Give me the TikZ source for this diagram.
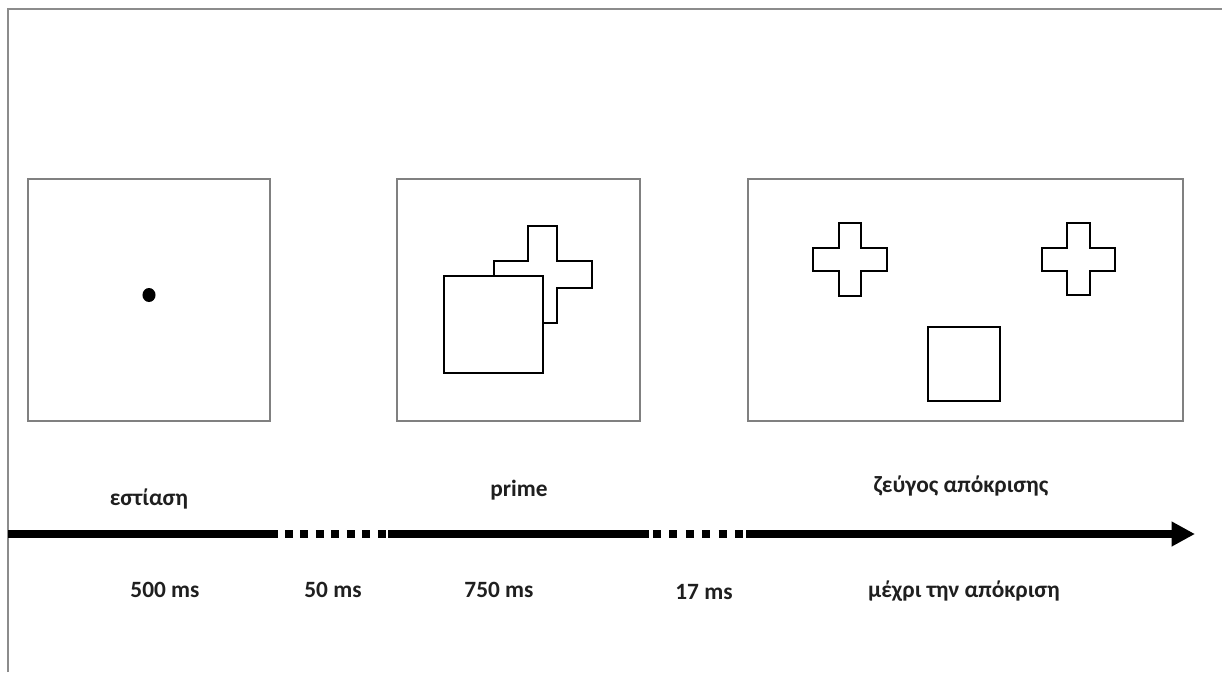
\documentclass[tikz,border=0pt]{standalone}
\usepackage{fontspec}
\setmainfont{Carlito}
\usetikzlibrary{arrows.meta}
\begin{document}
\begin{tikzpicture}[x=0.75pt,y=-0.75pt,
 frame/.style={draw=black!45,line width=1.1pt},
 panel/.style={draw=black!50,line width=0.8pt,inner sep=0pt,outer sep=0pt},
 shapeline/.style={draw=black,line width=1.6pt,line join=miter},
 lbl/.style={font=\fontsize{17.5}{20}\selectfont\bfseries,text=black!88,inner sep=0pt,anchor=base},
 tline/.style={line width=6pt},
 dotlineA/.style={line width=6pt,dash pattern=on 6pt off 5.6pt},
 dotlineB/.style={line width=6pt,dash pattern=on 6pt off 6.3pt}
]
\useasboundingbox (0,0) rectangle (1222,672);
\draw[frame] (8,672) -- (8,9) -- (1222,9);

% panels
\node[panel,minimum width=181.5pt,minimum height=181.5pt] (p1) at (149,300) {};
\node[panel,minimum width=182.25pt,minimum height=181.5pt] (p2) at (518.5,300) {};
\node[panel,minimum width=326.25pt,minimum height=181.5pt] (p3) at (965.5,300) {};

% fixation dot
\fill (149,295) ellipse [x radius=4.9pt, y radius=5.25pt];

% prime: cross behind square
\draw[shapeline] (528,226) -- (557,226) -- (557,261) -- (592,261) -- (592,288) -- (557,288) -- (557,323) -- (528,323) -- (528,288) -- (494,288) -- (494,261) -- (528,261) -- cycle;
\draw[shapeline,fill=white] (444,276) rectangle (543,373);

% response pair
\draw[shapeline,line width=1.3pt] (839,223) -- (861,223) -- (861,248) -- (887,248) -- (887,271) -- (861,271) -- (861,296) -- (839,296) -- (839,271) -- (813,271) -- (813,248) -- (839,248) -- cycle;
\draw[shapeline,line width=1.3pt] (1067,223) -- (1090,223) -- (1090,248) -- (1115,248) -- (1115,271) -- (1090,271) -- (1090,295) -- (1067,295) -- (1067,271) -- (1042,271) -- (1042,248) -- (1067,248) -- cycle;
\draw[shapeline,line width=1.3pt] (928,327) rectangle (1000,401);

% timeline
\coordinate (t0) at (8,534);
\coordinate (t1) at (278,534);
\coordinate (d1s) at (285,534);
\coordinate (d1e) at (386,534);
\coordinate (t2) at (388,534);
\coordinate (t3) at (649,534);
\coordinate (d2s) at (653,534);
\coordinate (d2e) at (743,534);
\coordinate (t4) at (746,534);
\coordinate (t5) at (1195,534);
\draw[tline] (t0) -- (t1);
\draw[dotlineA] (d1s) -- (d1e);
\draw[tline] (t2) -- (t3);
\draw[dotlineB] (d2s) -- (d2e);
\draw[tline,-{Triangle[length=17.5pt,width=17.5pt]}] (t4) -- (t5);

% labels
\node[lbl] (l1) at (149,505) {εστίαση};
\node[lbl] (l2) at (519,496) {prime};
\node[lbl] (l3) at (961,492) {ζεύγος απόκρισης};
\node[lbl] (m1) at (165,597) {500 ms};
\node[lbl] (m2) at (333,597) {50 ms};
\node[lbl] (m3) at (499,597) {750 ms};
\node[lbl] (m4) at (704,599) {17 ms};
\node[lbl] (m5) at (964,597) {μέχρι την απόκριση};
\end{tikzpicture}
\end{document}
